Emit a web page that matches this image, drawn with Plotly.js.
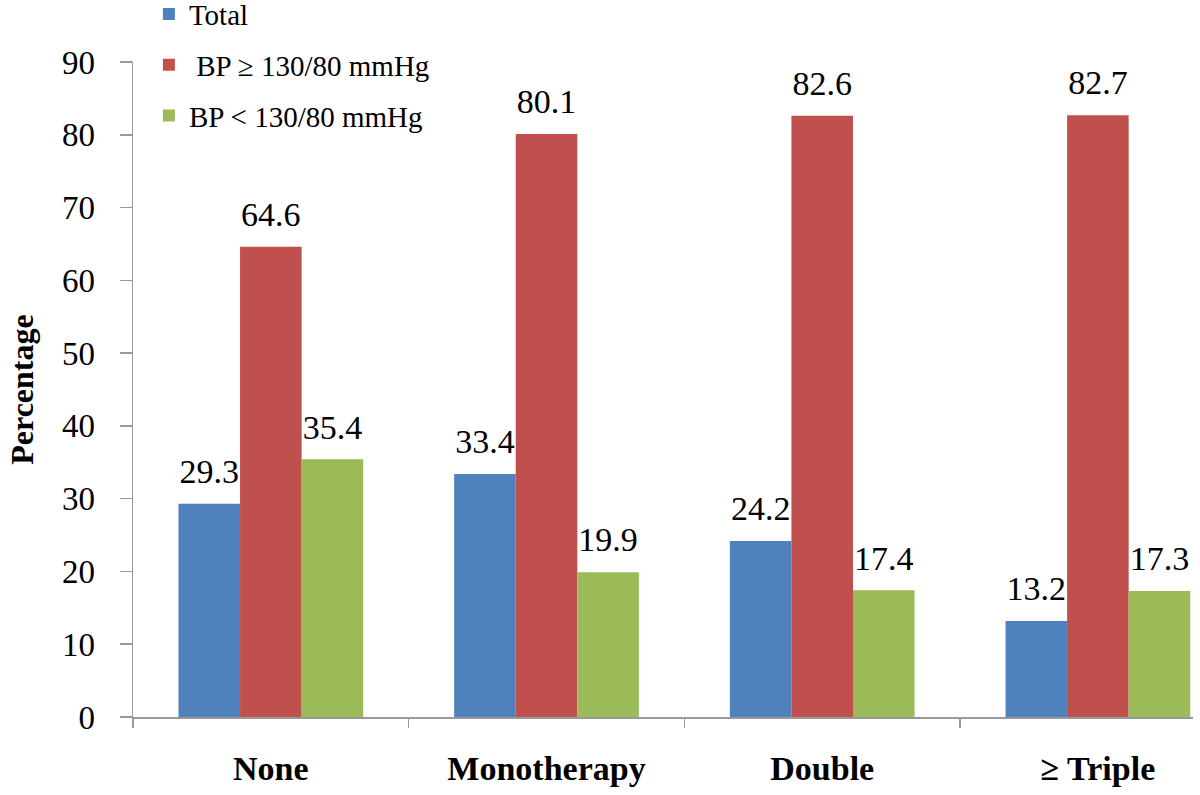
<!DOCTYPE html>
<html>
<head>
<meta charset="utf-8">
<script src="https://cdn.plot.ly/plotly-3.0.1.min.js"></script>
<style>html,body{margin:0;padding:0;background:#fff;}#chart{width:1200px;height:795px;}</style>
</head>
<body>
<div id="chart"></div>
<script>
const categories = ["None", "Monotherapy", "Double", "\u2265 Triple"];
const seriesNames = ["Total", " BP \u2265 130/80 mmHg", "BP < 130/80 mmHg"];
const totalValues = [29.3, 33.4, 24.2, 13.2];
const bpHighValues = [64.6, 80.1, 82.6, 82.7];
const bpLowValues = [35.4, 19.9, 17.4, 17.3];
const yTicks = [0, 10, 20, 30, 40, 50, 60, 70, 80, 90];

const colors = ["#4F81BD", "#C0504D", "#9BBB59"];
const allValues = [totalValues, bpHighValues, bpLowValues];
const font = "Liberation Serif, Times New Roman, serif";

const barTraces = allValues.map((vals, i) => ({
  type: "bar",
  name: seriesNames[i],
  x: categories,
  y: vals,
  offsetgroup: "s" + i,
  marker: {color: colors[i]},
  legendgroup: "g" + i,
  hoverinfo: "x+y+name"
}));

const labelTraces = allValues.map((vals, i) => ({
  type: "scatter",
  mode: "markers+text",
  x: categories,
  y: vals,
  offsetgroup: "s" + i,
  marker: {size: 18, opacity: 0, color: colors[i]},
  text: vals.map(v => v.toFixed(1)),
  textposition: "top center",
  textfont: {family: font, size: 34, color: "#000"},
  cliponaxis: false,
  showlegend: false,
  hoverinfo: "skip"
}));

const layout = {
  width: 1200,
  height: 795,
  margin: {l: 133, r: 7, t: 62, b: 78, autoexpand: false},
  paper_bgcolor: "#fff",
  plot_bgcolor: "#fff",
  barmode: "group",
  bargap: 0.33,
  bargroupgap: 0,
  scattermode: "group",
  scattergap: 0.33,
  font: {family: font, color: "#000"},
  showlegend: true,
  legend: {
    x: 0.015, y: 1.112, xanchor: "left", yanchor: "top",
    font: {family: font, size: 29, color: "#000"},
    tracegroupgap: 10,
    itemwidth: 30,
    bgcolor: "rgba(0,0,0,0)"
  },
  xaxis: {
    type: "category",
    range: [-0.5, 3.345],
    showline: true,
    linecolor: "#999",
    linewidth: 1.5,
    ticks: "outside",
    tickson: "boundaries",
    ticklen: 9,
    tickcolor: "#999",
    tickwidth: 1.5,
    ticklabelstandoff: 21,
    tickfont: {family: font, size: 34, color: "#000", weight: "bold"},
    showgrid: false,
    zeroline: false,
    automargin: false,
    fixedrange: true
  },
  yaxis: {
    range: [0, 90],
    tickvals: yTicks,
    ticktext: yTicks.map(String),
    showline: true,
    linecolor: "#999",
    linewidth: 1.5,
    ticks: "outside",
    ticklen: 12,
    tickcolor: "#999",
    tickwidth: 1.5,
    ticklabelstandoff: 18,
    tickfont: {family: font, size: 33, color: "#000"},
    showgrid: false,
    zeroline: false,
    automargin: false,
    title: {text: "Percentage", font: {family: font, size: 32, color: "#000", weight: "bold"}, standoff: 18},
    fixedrange: true
  }
};

Plotly.newPlot("chart", barTraces.concat(labelTraces), layout, {displayModeBar: false, staticPlot: true});
</script>
</body>
</html>
